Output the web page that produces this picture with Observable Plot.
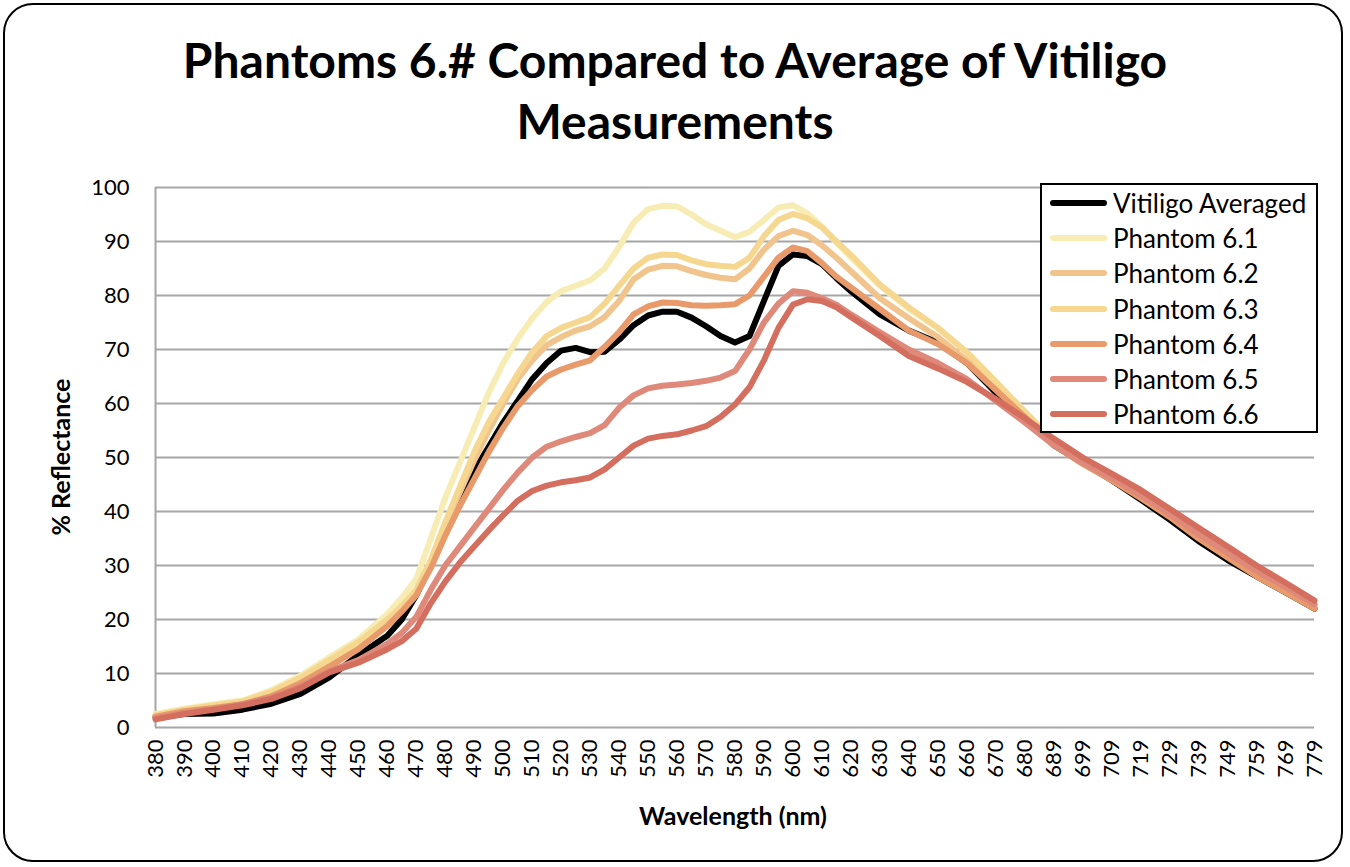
<!DOCTYPE html>
<html>
<head>
<meta charset="utf-8">
<script src="https://cdn.jsdelivr.net/npm/d3@7"></script>
<script src="https://cdn.jsdelivr.net/npm/@observablehq/plot@0.6"></script>
<style>
  html, body { margin: 0; padding: 0; background: #fff; }
  #wrap { position: relative; width: 1350px; height: 867px; overflow: hidden; font-family: Lato, "Open Sans", sans-serif; }
  #frame { position: absolute; left: 3px; top: 3px; width: 1340px; height: 859px; border: 2px solid #000; border-radius: 30px; box-sizing: border-box; pointer-events: none; }
  #chart { position: absolute; left: 0; top: 0; }
  #title { position: absolute; left: 0; top: 29px; width: 1350px; text-align: center; font-weight: 700; font-size: 48px; line-height: 61px; color: #000; }
  #xlabel { position: absolute; left: 583px; width: 300px; top: 800px; text-align: center; font-weight: 700; font-size: 25px; }
  #ylabel { position: absolute; left: 60px; top: 457px; transform: translate(-50%, -50%) rotate(-90deg); font-weight: 700; font-size: 25px; white-space: nowrap; }
  #legend { position: absolute; left: 1040px; top: 183px; width: 278px; height: 250px; border: 2px solid #000; background: #fff; box-sizing: border-box; padding-top: 0px; }
  .lrow { display: flex; align-items: center; height: 35.3px; }
  .lsw { width: 57px; height: 6px; border-radius: 3px; margin-left: 8px; margin-right: 6px; }
  .ltx { font-size: 26px; color: #000; white-space: nowrap; }
</style>
</head>
<body>
<div id="wrap">
  <div id="chart"></div>
  <div id="title">Phantoms 6.# Compared to Average of Vitiligo<br>Measurements</div>
  <div id="ylabel">% Reflectance</div>
  <div id="xlabel">Wavelength (nm)</div>
  <div id="legend"></div>
  <div id="frame"></div>
</div>
<script>
// ---- data ----
const wavelengths = [380,390,400,410,420,430,440,450,460,465,470,475,480,485,490,495,500,505,510,515,520,525,530,535,540,545,550,555,560,565,570,575,580,585,590,595,600,605,610,615,620,630,640,650,660,670,680,690,700,710,720,730,740,750,760,770,780];

const vitiligo = [2,2.5,2.6,3.3,4.4,6.2,9.3,13.4,17,20,24.5,30,37,42,47.5,52,56.5,60.5,64.5,67.5,69.8,70.3,69.5,69.6,71.8,74.5,76.3,77,77,75.9,74.3,72.5,71.3,72.5,79,85.5,87.6,87.3,85.8,83.2,80.8,76.5,73.5,71.3,67.5,62,57.5,52.3,49,45.8,42.2,38.5,34.5,31,28,25,22];

const phantom61 = [2.5,3.5,4.3,5,6.9,9.6,13,16.3,21,24,27.5,35,42.5,49,55.5,62,67.5,72,75.8,78.8,80.8,81.8,82.8,85,89,93.5,96,96.6,96.5,95,93.2,92,90.8,91.8,94,96.3,96.7,95.2,92.8,89.8,87,81.8,77.5,74,69.5,64,58.5,53,49.5,46.5,43,39.5,35.5,32,28.5,25.5,22.5];

const phantom62 = [2.2,3.2,3.9,4.6,6.3,8.8,12,15.3,19.5,22,25,30.5,37.5,43.5,49.5,55,60,64.5,68,70.8,72.3,73.5,74.3,76,79,83,84.8,85.5,85.4,84.5,83.8,83.3,83,85,88.5,91,92,91.2,89.3,87,84.5,79.5,75.8,72.3,68,63,57.8,52.5,49,46,42.8,39.3,35.3,31.8,28.3,25.3,22.2];

const phantom63 = [2.3,3.3,4.1,4.8,6.6,9.2,12.5,15.8,20,22.5,25.5,31,38,44.5,51,56.5,61,65.5,69.5,72.5,74,75,76,78.5,81.8,85,87,87.6,87.5,86.5,85.8,85.5,85.3,87,91,94,95.1,94.3,92.6,90,87.5,82,77.8,74,69.5,64,58.5,53,49.5,46.3,43,39.5,35.5,32,28.5,25.5,22.5];

const phantom64 = [2,3,3.6,4.3,5.8,8.2,11.3,14.5,18.8,21.5,24.5,29.5,35.5,41,46,51,55.5,59.5,62.5,65,66.3,67.2,68,70.5,73.2,76.5,78,78.7,78.6,78.2,78.1,78.2,78.4,80,83.5,87,88.9,88.2,86,83.5,81.5,77.5,73.5,71,67.5,62.5,57.5,52.3,48.8,45.8,42.5,39,35,31.5,28,25,22];

const phantom65 = [1.7,2.7,3.4,4.3,5.5,7.6,10.4,12.5,15.5,17.5,20.5,25.5,30,33.5,37,40.5,44,47.2,50,52,53,53.8,54.5,56,59.2,61.5,62.8,63.3,63.5,63.8,64.2,64.8,66,70,75,78.5,80.8,80.5,79.5,78.3,76.5,73.2,70,67.5,64.5,60.5,56.5,52.3,49,46.2,43,39.5,35.8,32.3,29,26,22.8];

const phantom66 = [1.5,2.5,3.3,4.1,5.3,7.3,10.2,12,14.5,16,18.3,23,27,30.5,33.5,36.5,39.3,42,43.8,44.8,45.4,45.8,46.3,47.8,50,52.2,53.5,54,54.3,55,55.8,57.5,59.8,63,68,74,78.3,79.3,79,77.8,76,72.5,68.8,66.5,64,60.8,57.3,53.5,50,47,44,40.5,37,33.5,30,26.8,23.5];

const seriesNames = ["Vitiligo Averaged","Phantom 6.1","Phantom 6.2","Phantom 6.3","Phantom 6.4","Phantom 6.5","Phantom 6.6"];
const seriesColors = ["#000000","#F7ECB3","#F2C48D","#F5D78F","#E89A6B","#DE897A","#D46F5F"];
const seriesValues = [vitiligo, phantom61, phantom62, phantom63, phantom64, phantom65, phantom66];

const yTicks = [0,10,20,30,40,50,60,70,80,90,100];
const xTickLabels = ["380","390","400","410","420","430","440","450","460","470","480","490","500","510","520","530","540","550","560","570","580","590","600","610","620","630","640","650","660","670","680","689","699","709","719","729","739","749","759","769","779"];
const xTickPos = xTickLabels.map((_, i) => 380 + 10 * i);

// ---- build table ----
const rows = [];
seriesNames.forEach((name, s) => {
  seriesValues[s].forEach((v, i) => rows.push({series: name, wl: wavelengths[i], v}));
});

const chart = Plot.plot({
  width: 1350,
  height: 867,
  marginLeft: 155,
  marginRight: 36,
  marginTop: 187,
  marginBottom: 140,
  x: {domain: [380, 780]},
  y: {domain: [0, 100]},
  color: {domain: seriesNames, range: seriesColors},
  style: {fontFamily: "Lato, 'Open Sans', sans-serif", fontSize: "22px", color: "#000", background: "transparent"},
  marks: [
    Plot.gridY(yTicks, {stroke: "#a6a6a6", strokeOpacity: 1, strokeWidth: 2}),
    Plot.ruleX([380], {stroke: "#a6a6a6", strokeWidth: 2}),
    Plot.axisY(yTicks, {tickSize: 0, tickPadding: 26, fontSize: 22, label: null}),
    Plot.axisX(xTickPos, {tickSize: 0, tickPadding: 12, tickRotate: -90, fontSize: 22, label: null,
      tickFormat: d => xTickLabels[Math.round((d - 380) / 10)]}),
    Plot.lineY(rows, {x: "wl", y: "v", z: "series", stroke: "series", strokeWidth: 6, strokeLinejoin: "round", strokeLinecap: "round"})
  ]
});
document.getElementById("chart").appendChild(chart);

// ---- legend ----
const legend = document.getElementById("legend");
seriesNames.forEach((name, i) => {
  const row = document.createElement("div");
  row.className = "lrow";
  const sw = document.createElement("div");
  sw.className = "lsw";
  sw.style.background = seriesColors[i];
  const tx = document.createElement("div");
  tx.className = "ltx";
  tx.textContent = name;
  row.appendChild(sw); row.appendChild(tx);
  legend.appendChild(row);
});
</script>
</body>
</html>
